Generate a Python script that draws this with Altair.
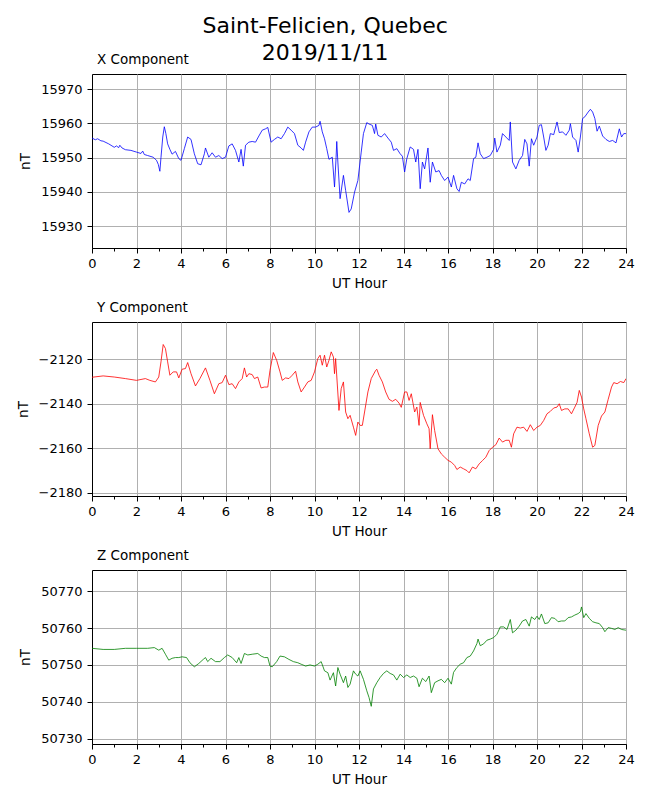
import altair as alt
import pandas as pd

# ---------------- data ----------------
x_hours = [0.0, 0.15, 0.25, 0.4, 0.5, 0.75, 1.0, 1.1, 1.2, 1.25, 1.35, 1.5, 1.75, 2.0, 2.2, 2.28, 2.35, 2.5,
           2.75, 2.9, 2.98, 3.05, 3.1, 3.18, 3.25, 3.32, 3.4, 3.5, 3.6, 3.75, 3.9, 4.0, 4.15, 4.3, 4.45, 4.6,
           4.75, 4.9, 5.05, 5.1, 5.25, 5.4, 5.55, 5.7, 5.85, 6.0, 6.15, 6.3, 6.45, 6.6, 6.7, 6.8, 6.9, 7.05,
           7.2, 7.35, 7.5, 7.65, 7.8, 7.9, 8.05, 8.2, 8.35, 8.5, 8.65, 8.8, 8.95, 9.1, 9.25, 9.4, 9.5, 9.6,
           9.75, 9.9, 10.05, 10.2, 10.25, 10.35, 10.45, 10.55, 10.65, 10.8, 10.9, 10.97, 11.0, 11.05, 11.15,
           11.3, 11.4, 11.55, 11.65, 11.8, 11.95, 12.1, 12.2, 12.35, 12.45, 12.6, 12.7, 12.75, 12.85, 13.0,
           13.15, 13.3, 13.45, 13.55, 13.7, 13.85, 13.95, 14.05, 14.15, 14.3, 14.45, 14.55, 14.65, 14.75,
           14.85, 14.95, 15.1, 15.2, 15.3, 15.45, 15.6, 15.7, 15.85, 16.0, 16.15, 16.25, 16.4, 16.5, 16.6,
           16.75, 16.9, 17.0, 17.15, 17.25, 17.35, 17.45, 17.6, 17.75, 17.9, 18.05, 18.1, 18.2, 18.35, 18.45,
           18.6, 18.75, 18.8, 18.9, 19.05, 19.2, 19.35, 19.45, 19.55, 19.65, 19.75, 19.85, 20.0, 20.1, 20.2,
           20.3, 20.4, 20.5, 20.6, 20.75, 20.9, 21.0, 21.15, 21.3, 21.45, 21.5, 21.6, 21.75, 21.85, 21.95,
           22.05, 22.15, 22.3, 22.4, 22.5, 22.6, 22.7, 22.8, 22.95, 23.1, 23.25, 23.4, 23.55, 23.7, 23.8,
           23.9, 24.0]
x_values = [15955.7, 15955.2, 15955.5, 15954.9, 15954.8, 15954.0, 15953.0, 15953.4, 15952.9, 15953.6,
            15952.8, 15952.3, 15952.1, 15951.6, 15951.2, 15951.9, 15950.9, 15950.6, 15950.1, 15949.2,
            15948.0, 15946.0, 15950.0, 15956.0, 15959.0, 15957.0, 15954.0, 15952.4, 15951.0, 15951.8,
            15949.7, 15949.2, 15952.6, 15956.0, 15955.3, 15951.1, 15948.2, 15947.9, 15951.1, 15952.8,
            15950.1, 15951.4, 15950.1, 15950.6, 15949.7, 15950.1, 15953.4, 15954.0, 15952.1, 15948.7,
            15952.4, 15947.5, 15953.6, 15954.5, 15954.7, 15954.5, 15956.3, 15958.0, 15958.4, 15958.8,
            15954.5, 15955.3, 15956.0, 15955.5, 15957.0, 15958.9, 15958.0, 15957.0, 15953.6, 15952.8,
            15952.1, 15954.5, 15957.5, 15958.9, 15958.9, 15959.4, 15960.6, 15957.5, 15955.5, 15952.6,
            15949.5, 15950.1, 15941.4, 15950.0, 15954.7, 15948.7, 15938.0, 15944.8, 15940.4, 15934.0,
            15935.0, 15939.9, 15943.3, 15951.6, 15957.0, 15960.2, 15959.8, 15959.4, 15957.0, 15959.8,
            15956.5, 15956.0, 15957.0, 15955.7, 15954.5, 15952.1, 15952.6, 15951.1, 15950.4, 15945.8,
            15949.7, 15953.1, 15952.4, 15948.7, 15952.4, 15940.9, 15948.7, 15946.7, 15952.8, 15942.8,
            15948.7, 15945.8, 15946.2, 15944.8, 15943.3, 15944.3, 15941.4, 15944.8, 15940.9, 15940.1,
            15942.8, 15942.3, 15943.8, 15943.3, 15949.7, 15950.1, 15954.3, 15951.1, 15949.7, 15950.1,
            15950.6, 15952.4, 15955.7, 15951.6, 15953.6, 15957.0, 15956.0, 15955.0, 15960.4, 15948.7,
            15946.7, 15949.2, 15950.6, 15955.3, 15954.0, 15947.5, 15955.5, 15953.6, 15956.0, 15959.4,
            15959.6, 15956.0, 15952.1, 15953.6, 15957.0, 15956.7, 15960.4, 15957.3, 15957.5, 15956.5,
            15958.0, 15959.9, 15956.0, 15955.0, 15951.6, 15956.0, 15961.4, 15961.9, 15963.3, 15964.1,
            15963.3, 15961.4, 15957.7, 15959.2, 15956.3, 15955.3, 15954.7, 15955.0, 15954.3, 15958.4,
            15956.0, 15957.0, 15957.0]

y_hours = [0.0, 0.5, 1.0, 1.5, 2.0, 2.4, 2.6, 2.85, 3.0, 3.1, 3.2, 3.3, 3.4, 3.5, 3.65, 3.8, 3.9, 4.05,
           4.2, 4.3, 4.45, 4.65, 4.85, 5.1, 5.3, 5.5, 5.7, 5.85, 6.0, 6.15, 6.3, 6.45, 6.6, 6.75, 6.85,
           6.95, 7.05, 7.2, 7.3, 7.45, 7.6, 7.75, 7.9, 8.0, 8.15, 8.3, 8.45, 8.55, 8.7, 8.85, 9.0, 9.15,
           9.25, 9.4, 9.55, 9.7, 9.85, 10.0, 10.15, 10.25, 10.35, 10.45, 10.55, 10.65, 10.75, 10.85, 10.9,
           10.95, 11.1, 11.2, 11.3, 11.4, 11.5, 11.6, 11.75, 11.85, 11.95, 12.05, 12.15, 12.25, 12.4,
           12.55, 12.75, 12.8, 12.9, 13.05, 13.2, 13.35, 13.5, 13.65, 13.8, 13.9, 14.05, 14.15, 14.25,
           14.35, 14.5, 14.6, 14.7, 14.75, 14.9, 15.05, 15.15, 15.2, 15.3, 15.4, 15.55, 15.7, 15.85, 16.0,
           16.15, 16.3, 16.4, 16.55, 16.7, 16.85, 16.95, 17.1, 17.25, 17.4, 17.55, 17.7, 17.85, 18.0,
           18.15, 18.3, 18.45, 18.6, 18.75, 18.85, 18.95, 19.1, 19.25, 19.4, 19.55, 19.7, 19.85, 20.0,
           20.15, 20.3, 20.45, 20.6, 20.75, 20.9, 21.0, 21.1, 21.25, 21.4, 21.55, 21.7, 21.8, 21.9, 22.0,
           22.1, 22.2, 22.35, 22.5, 22.6, 22.75, 22.9, 23.05, 23.2, 23.35, 23.45, 23.6, 23.75, 23.9, 24.0]
y_values = [-2128.1, -2127.5, -2128.0, -2128.7, -2129.5, -2128.7, -2129.5, -2130.2, -2128.0, -2121.2,
            -2113.4, -2115.2, -2121.2, -2127.2, -2125.7, -2125.7, -2128.4, -2124.5, -2124.2, -2121.5,
            -2126.5, -2132.0, -2128.7, -2123.9, -2129.5, -2135.5, -2131.0, -2130.5, -2127.2, -2131.4,
            -2131.0, -2133.2, -2130.2, -2128.7, -2123.9, -2128.0, -2126.5, -2126.9, -2128.7, -2128.0,
            -2132.9, -2132.5, -2132.5, -2125.0, -2117.0, -2120.5, -2125.7, -2129.5, -2128.4, -2128.7,
            -2127.2, -2125.4, -2130.2, -2134.7, -2132.5, -2130.2, -2129.5, -2125.7, -2119.7, -2118.2,
            -2122.7, -2118.2, -2123.5, -2120.5, -2116.7, -2119.0, -2126.5, -2119.7, -2143.0, -2133.2,
            -2130.2, -2143.7, -2146.7, -2145.2, -2150.5, -2154.2, -2148.2, -2149.7, -2149.7, -2143.7,
            -2134.7, -2128.7, -2125.0, -2124.5, -2127.2, -2130.2, -2134.7, -2138.0, -2138.9, -2138.0,
            -2139.7, -2141.6, -2134.7, -2134.7, -2138.5, -2135.5, -2143.7, -2141.5, -2149.7, -2139.4,
            -2145.2, -2149.0, -2151.2, -2160.2, -2144.9, -2152.0, -2160.2, -2162.5, -2164.0, -2165.4,
            -2166.2, -2167.7, -2169.5, -2168.4, -2169.2, -2170.0, -2171.0, -2168.4, -2169.2, -2167.0,
            -2165.5, -2164.0, -2161.0, -2159.5, -2158.4, -2155.4, -2157.2, -2156.4, -2156.4, -2159.5,
            -2153.5, -2150.5, -2150.9, -2150.5, -2152.4, -2149.4, -2152.0, -2150.5, -2149.7, -2147.5,
            -2144.5, -2143.4, -2141.9, -2141.5, -2140.0, -2143.0, -2142.3, -2142.3, -2144.5, -2141.5,
            -2139.4, -2134.0, -2137.0, -2142.3, -2146.7, -2153.5, -2159.5, -2158.7, -2149.7, -2145.5,
            -2143.7, -2138.0, -2132.5, -2130.5, -2131.0, -2130.0, -2130.5, -2128.7]

z_hours = [0.0, 0.5, 1.0, 1.5, 2.0, 2.5, 2.8, 3.0, 3.15, 3.3, 3.45, 3.6, 3.75, 3.9, 4.05, 4.25, 4.4, 4.6,
           4.8, 5.0, 5.1, 5.2, 5.35, 5.55, 5.75, 5.95, 6.1, 6.3, 6.5, 6.6, 6.7, 6.85, 7.0, 7.2, 7.45, 7.6,
           7.75, 7.9, 8.0, 8.1, 8.3, 8.45, 8.65, 8.85, 9.05, 9.25, 9.4, 9.6, 9.8, 10.0, 10.15, 10.3, 10.45,
           10.6, 10.7, 10.85, 10.95, 11.05, 11.15, 11.3, 11.4, 11.5, 11.6, 11.75, 11.85, 11.95, 12.05,
           12.2, 12.35, 12.45, 12.55, 12.65, 12.8, 12.95, 13.1, 13.25, 13.4, 13.55, 13.7, 13.85, 14.0,
           14.15, 14.3, 14.45, 14.6, 14.7, 14.85, 15.0, 15.15, 15.25, 15.4, 15.55, 15.7, 15.85, 16.0,
           16.15, 16.25, 16.4, 16.55, 16.7, 16.85, 17.0, 17.15, 17.3, 17.35, 17.45, 17.6, 17.75, 17.9,
           18.05, 18.2, 18.35, 18.5, 18.65, 18.8, 18.9, 19.05, 19.2, 19.35, 19.5, 19.65, 19.75, 19.9, 20.0,
           20.1, 20.2, 20.35, 20.5, 20.65, 20.8, 20.95, 21.1, 21.25, 21.4, 21.55, 21.7, 21.85, 21.95, 22.0,
           22.1, 22.2, 22.35, 22.5, 22.65, 22.8, 22.95, 23.05, 23.2, 23.35, 23.5, 23.65, 23.8, 24.0]
z_values = [50754.5, 50754.2, 50754.2, 50754.5, 50754.5, 50754.5, 50754.7, 50754.0, 50754.5, 50752.9,
            50751.3, 50751.8, 50752.0, 50752.0, 50752.2, 50752.0, 50750.6, 50749.5, 50750.4, 50751.5,
            50752.0, 50750.9, 50751.8, 50750.9, 50750.9, 50752.0, 50752.7, 50752.0, 50750.6, 50752.0,
            50750.4, 50753.1, 50752.7, 50752.9, 50753.1, 50752.4, 50752.0, 50752.0, 50749.7, 50749.5,
            50750.9, 50752.4, 50752.2, 50751.5, 50750.9, 50750.6, 50750.2, 50749.7, 50750.0, 50749.7,
            50750.2, 50750.9, 50748.4, 50747.9, 50745.9, 50747.9, 50744.3, 50749.3, 50747.5, 50745.2,
            50747.0, 50743.9, 50744.8, 50748.4, 50747.5, 50747.0, 50748.4, 50746.1, 50743.0, 50741.2,
            50738.8, 50743.5, 50745.2, 50746.6, 50747.7, 50748.4, 50747.7, 50747.3, 50745.9, 50747.5,
            50746.6, 50747.3, 50746.6, 50747.0, 50746.4, 50744.1, 50746.4, 50745.5, 50747.0, 50742.5,
            50745.2, 50745.7, 50746.1, 50745.2, 50746.4, 50744.8, 50748.0, 50749.3, 50750.2, 50750.6,
            50752.0, 50752.4, 50753.8, 50755.8, 50757.0, 50755.2, 50755.7, 50756.7, 50757.0, 50757.4,
            50758.3, 50760.3, 50760.3, 50759.6, 50762.3, 50758.7, 50759.4, 50760.5, 50761.9, 50762.3,
            50760.5, 50763.0, 50762.3, 50763.2, 50762.3, 50763.8, 50761.2, 50761.4, 50762.8, 50762.6,
            50761.7, 50761.9, 50761.9, 50762.8, 50763.0, 50763.5, 50763.9, 50764.4, 50765.7, 50762.8,
            50763.9, 50762.6, 50761.7, 50761.4, 50761.2, 50760.1, 50759.0, 50760.1, 50759.9, 50759.6,
            50760.1, 50759.6, 50759.4]

hour_ticks = list(range(25))
x_ticks = [15930, 15940, 15950, 15960, 15970]
y_ticks = [-2180, -2160, -2140, -2120]
z_ticks = [50730, 50740, 50750, 50760, 50770]

FONT = "DejaVu Sans"


def panel(hours, values, color, title, domain, ticks):
    df = pd.DataFrame({"hour": hours, "value": values})
    even = "datum.value % 2 === 0"
    x_axis = alt.Axis(
        values=hour_ticks,
        format="d",
        labelExpr=f"{even} ? datum.label : ''",
        labelFlush=False,
        grid=True,
        gridOpacity={"condition": {"test": even, "value": 1}, "value": 0},
        tickSize={"condition": {"test": even, "value": 5}, "value": 3},
        labelPadding=4,
        titlePadding=6,
    )
    y_axis = alt.Axis(values=ticks, format="d", grid=True, tickSize=5, labelPadding=5,
                      labelFlush=False, titlePadding=8)
    return (
        alt.Chart(df)
        .mark_line(color=color, strokeWidth=0.8, clip=True)
        .encode(
            x=alt.X("hour:Q", scale=alt.Scale(domain=[0, 24], nice=False, zero=False), axis=x_axis,
                    title="UT Hour"),
            y=alt.Y("value:Q", scale=alt.Scale(domain=domain, nice=False, zero=False), axis=y_axis,
                    title="nT"),
        )
        .properties(
            width=534,
            height=174,
            title=alt.TitleParams(title, anchor="start", frame="group", fontSize=13.5, font=FONT,
                                  fontWeight="normal", color="black", offset=8, dx=5),
        )
    )


chart = (
    alt.vconcat(
        panel(x_hours, x_values, "#0000ff", "X Component", [15923.6, 15974.4], x_ticks),
        panel(y_hours, y_values, "#ff0000", "Y Component", [-2181.4, -2103.3], y_ticks),
        panel(z_hours, z_values, "#008000", "Z Component", [50728.6, 50775.7], z_ticks),
        spacing=74,
        bounds="flush",
    )
    .properties(
        title=alt.TitleParams(["Saint-Felicien, Quebec", "2019/11/11"], fontSize=22, font=FONT,
                              fontWeight="normal", color="black", anchor="middle", frame="bounds",
                              lineHeight=27.5, offset=-13),
        padding={"left": 7, "top": 6, "right": 5, "bottom": 5},
        background="white",
    )
    .configure_view(stroke="black", strokeWidth=1)
    .configure_axis(
        labelFont=FONT, labelFontSize=13, labelColor="black",
        titleFont=FONT, titleFontSize=13.5, titleFontWeight="normal", titleColor="black",
        domainColor="black", tickColor="black", gridColor="#b0b0b0", gridWidth=1,
    )
)

chart.save("out.html", embed_options={"renderer": "svg", "actions": False})
